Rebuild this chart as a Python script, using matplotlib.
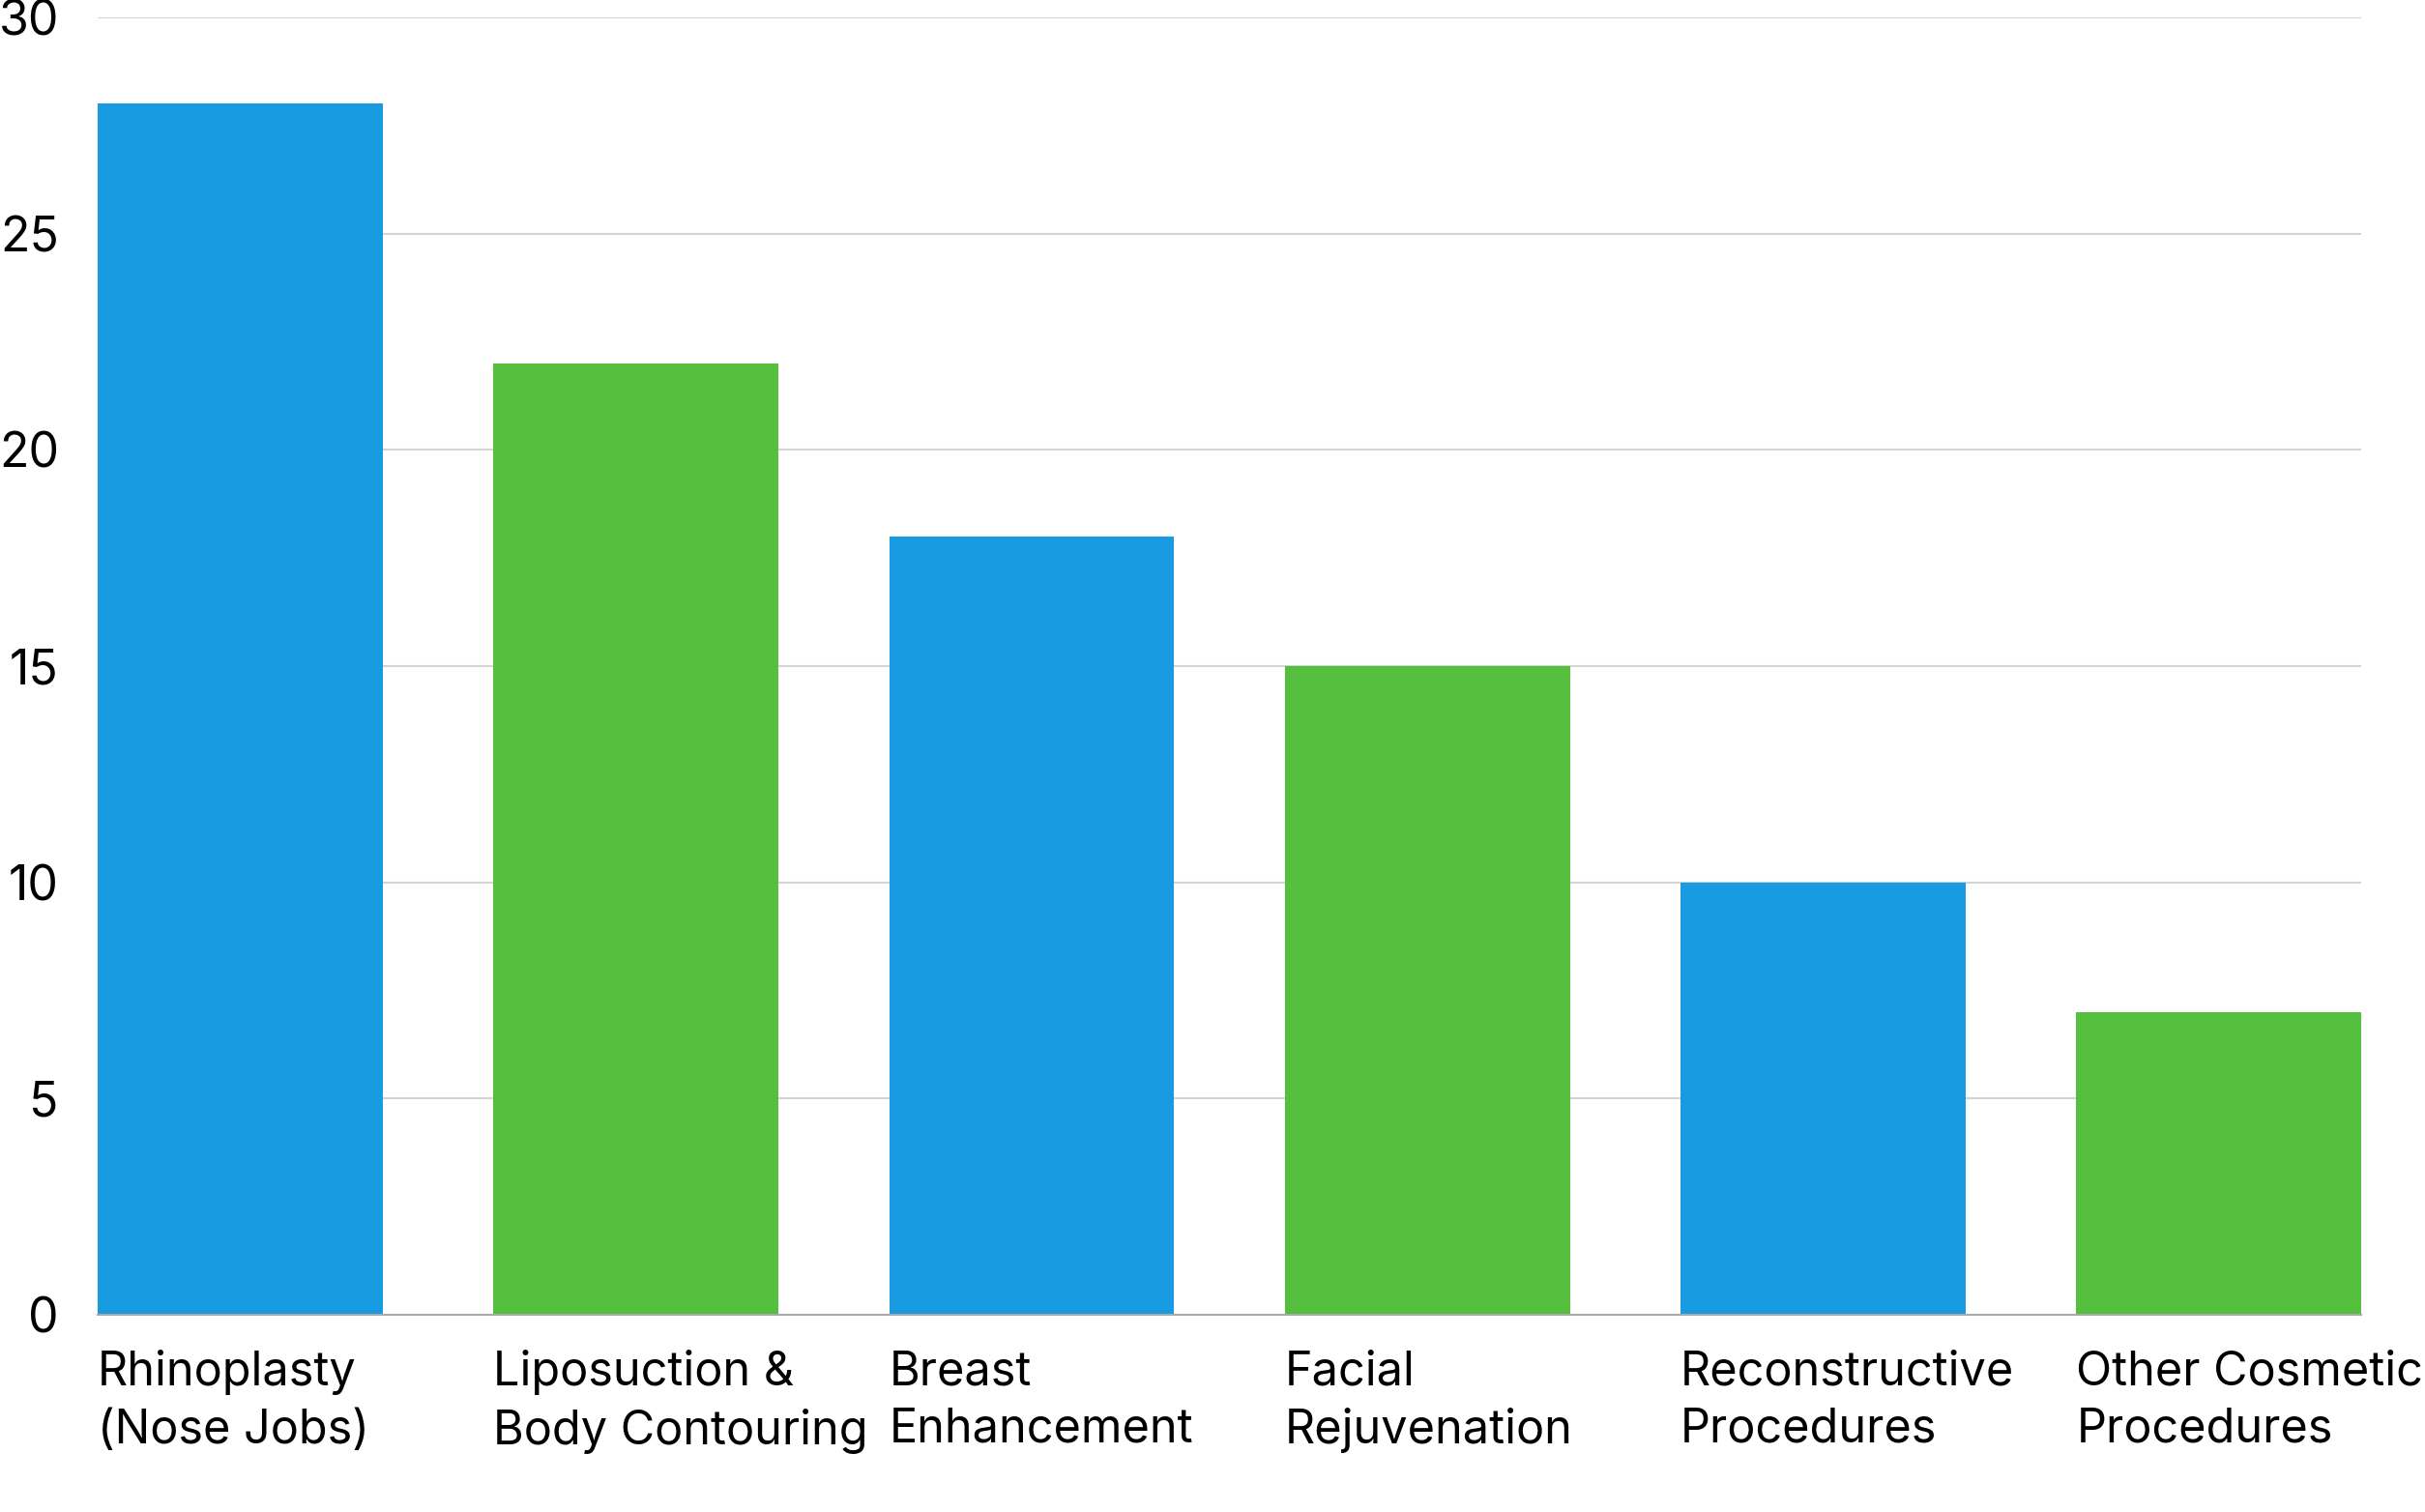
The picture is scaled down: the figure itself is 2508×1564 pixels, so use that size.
import matplotlib
matplotlib.use("Agg")
import matplotlib.pyplot as plt
import numpy as np

categories = ["Rhinoplasty\n(Nose Jobs)", "Liposuction &\nBody Contouring", "Breast\nEnhancement",
              "Facial\nRejuvenation", "Reconstructive\nProcedures", "Other Cosmetic\nProcedures"]
values = [28, 22, 18, 15, 10, 7]
bar_colors = ["#189be0", "#55bf3e", "#189be0", "#55bf3e", "#189be0", "#55bf3e"]
yticks = [0, 5, 10, 15, 20, 25, 30]

plt.rcParams['font.family'] = ['Inter', 'DejaVu Sans']

fig = plt.figure(figsize=(25.08, 15.64), dpi=100)
ax = fig.add_axes([0.0403, 0.1304, 0.9334, 0.8581])

x = np.arange(len(values))
ax.bar(x, values, width=0.72, align='edge', color=bar_colors, zorder=2)

ax.set_xlim(0, len(values) - 1 + 0.72)
ax.set_ylim(0, 30)
ax.set_yticks(yticks)
ax.set_yticklabels([str(t) for t in yticks], fontsize=36, ha='right')
ax.set_xticks(x)
ax.set_xticklabels(categories, fontsize=35, ha='left', linespacing=1.38)
ax.tick_params(axis='both', length=0)
ax.tick_params(axis='y', pad=29)
ax.tick_params(axis='x', pad=26)

ax.grid(axis='y', color='#d4d4d4', linewidth=1.5, zorder=0)
for s in ['top', 'right', 'left']:
    ax.spines[s].set_visible(False)
ax.spines['bottom'].set_color('#aaaaaa')
ax.spines['bottom'].set_linewidth(1.5)

fig.savefig("out.png", dpi=100)
